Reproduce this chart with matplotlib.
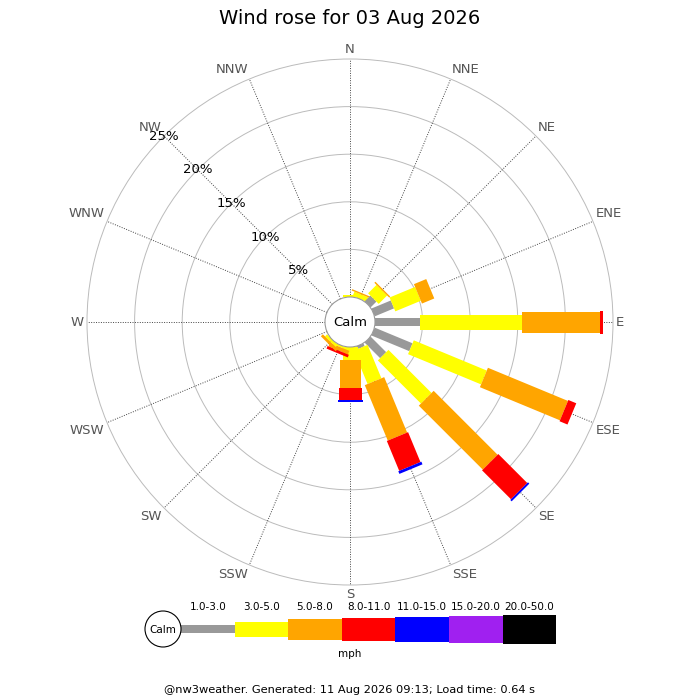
import numpy as np
import matplotlib
matplotlib.use("Agg")
import matplotlib.pyplot as plt
from matplotlib.patches import Polygon, Circle, Rectangle

# wind rose data: percent of time per direction, per speed band
directions = ['N', 'NNE', 'NE', 'ENE', 'E', 'ESE', 'SE', 'SSE',
              'S', 'SSW', 'SW', 'WSW', 'W', 'WNW', 'NW', 'NNW']
speed_bins = ['1.0-3.0', '3.0-5.0', '5.0-8.0', '8.0-11.0',
              '11.0-15.0', '15.0-20.0', '20.0-50.0']
bin_colors = ['#999999', '#ffff00', '#ffa500', '#ff0000',
              '#0000ff', '#a020f0', '#000000']

pct_1_3 = [0, 0, 0.85, 2.2, 4.7, 4.3, 2.3, 0.3, 0, 0, 0, 0, 0, 0, 0, 0]
pct_3_5 = [0.2, 0.5, 1.25, 2.9, 10.7, 8.3, 6.4, 3.8, 1.4, 0.2, 0.3, 0, 0, 0, 0, 0]
pct_5_8 = [0, 0.15, 0.15, 1.4, 8.2, 9.1, 9.5, 6.3, 2.9, 0.4, 0.3, 0, 0, 0, 0, 0]
pct_8_11 = [0, 0, 0, 0, 0.35, 0.9, 4.3, 3.4, 1.3, 0.3, 0, 0, 0, 0, 0, 0]
pct_11_15 = [0, 0, 0, 0, 0, 0, 0.2, 0.3, 0.15, 0, 0, 0, 0, 0, 0, 0]
pct_15_20 = [0] * 16
pct_20_50 = [0] * 16
all_bins = [pct_1_3, pct_3_5, pct_5_8, pct_8_11, pct_11_15, pct_15_20, pct_20_50]

ring_pcts = [5, 10, 15, 20, 25]

title = 'Wind rose for 03 Aug 2026'
footer = '@nw3weather. Generated: 11 Aug 2026 09:13; Load time: 0.64 s'

# geometry (pixels)
cx, cy = 350, 322
calm_r = 25
px_per_pct = (263 - calm_r) / 25.0
bar_w = [8.5, 15, 21, 23, 25, 27, 29]


def rad(p):
    return calm_r + p * px_per_pct


def unit(deg):
    t = np.radians(deg)
    return np.array([np.sin(t), -np.cos(t)]), np.array([np.cos(t), np.sin(t)])


fig = plt.figure(figsize=(7, 7), dpi=100)
ax = fig.add_axes([0, 0, 1, 1])
ax.set_xlim(0, 700)
ax.set_ylim(700, 0)
ax.set_aspect('equal')
ax.axis('off')

# rings
for p in ring_pcts:
    ax.add_patch(Circle((cx, cy), rad(p), fill=False, ec='#bbbbbb', lw=0.7, zorder=1))

# spokes + direction labels
for i, d in enumerate(directions):
    ang = i * 22.5
    u, _ = unit(ang)
    a = np.array([cx, cy]) + u * calm_r
    b = np.array([cx, cy]) + u * rad(ring_pcts[-1])
    ax.plot([a[0], b[0]], [a[1], b[1]], color='#444444', lw=0.7,
            ls=(0, (1, 1.5)), zorder=2)
    s, c = u[0], -u[1]
    ha = 'left' if s > 0.1 else ('right' if s < -0.1 else 'center')
    va = 'bottom' if c > 0.1 else ('top' if c < -0.1 else 'center')
    lp = np.array([cx, cy]) + u * 266
    ax.text(lp[0], lp[1], d, ha=ha, va=va, fontsize=9.5, color='#555555', zorder=5)

# percent labels along NW spoke
u_nw, _ = unit(315)
for p in ring_pcts:
    lp = np.array([cx, cy]) + u_nw * rad(p)
    ax.text(lp[0], lp[1], f'{p}%', ha='center', va='center', fontsize=9.5,
            color='black', zorder=6)

# bars
for i in range(len(directions)):
    u, perp = unit(i * 22.5)
    cum = 0.0
    for k, vals in enumerate(all_bins):
        v = vals[i]
        if v <= 0:
            continue
        r0, r1 = rad(cum), rad(cum + v)
        cum += v
        h = bar_w[k] / 2
        c0 = np.array([cx, cy])
        pts = [c0 + u * r0 - perp * h, c0 + u * r1 - perp * h,
               c0 + u * r1 + perp * h, c0 + u * r0 + perp * h]
        ax.add_patch(Polygon(pts, closed=True, fc=bin_colors[k], ec='none', zorder=3))

# calm circle
ax.add_patch(Circle((cx, cy), calm_r, fc='white', ec='#999999', lw=0.8, zorder=4))
ax.text(cx, cy, 'Calm', ha='center', va='center', fontsize=9.5, zorder=5)

# legend
leg_y = 629
seg_w = 53.6
x0 = 181
ax.add_patch(Circle((163, leg_y), 18, fc='white', ec='black', lw=0.8, zorder=4))
ax.text(163, leg_y + 1, 'Calm', ha='center', va='center', fontsize=7.5, zorder=5)
for k, lab in enumerate(speed_bins):
    xs = x0 + k * seg_w
    ax.add_patch(Rectangle((xs, leg_y - bar_w[k] / 2), seg_w, bar_w[k],
                           fc=bin_colors[k], ec='none', zorder=3))
    ax.text(xs + seg_w / 2, 607, lab, ha='center', va='center', fontsize=7.5)
ax.text(350, 654, 'mph', ha='center', va='center', fontsize=7.5)

ax.text(350, 18, title, ha='center', va='center', fontsize=14)
ax.text(350, 690, footer, ha='center', va='center', fontsize=8.2)

fig.savefig('out.png', dpi=100)
